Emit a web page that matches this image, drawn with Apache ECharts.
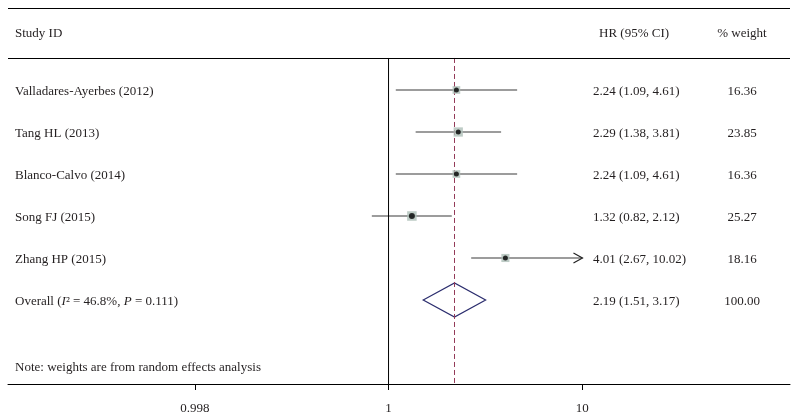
<!DOCTYPE html>
<html>
<head>
<meta charset="utf-8">
<script src="https://cdn.jsdelivr.net/npm/echarts@6/dist/echarts.min.js"></script>
<style>html,body{margin:0;padding:0;background:#fff}#c{width:798px;height:418px}</style>
</head>
<body>
<div id="c"></div>
<script>
// ---- data ----
const studies = ["Valladares-Ayerbes (2012)", "Tang HL (2013)", "Blanco-Calvo (2014)", "Song FJ (2015)", "Zhang HP (2015)"];
const hr = [2.24, 2.29, 2.24, 1.32, 4.01];
const lower = [1.09, 1.38, 1.09, 0.82, 2.67];
const upper = [4.61, 3.81, 4.61, 2.12, 10.02];
const weights = [16.36, 23.85, 16.36, 25.27, 18.16];
const clippedRight = [0, 0, 0, 0, 1];
const overallLabel = "Overall";
const overallI2 = "46.8%";
const overallP = "0.111";
const overallHR = 2.19, overallLo = 1.51, overallHi = 3.17, overallWeight = 100.00;
const headers = ["Study ID", "HR (95% CI)", "% weight"];
const note = "Note: weights are from random effects analysis";
const tickValues = [0.1, 1, 10];          // positions on the log scale
const tickLabels = ["0.998", "1", "10"];  // labels as printed

// ---- layout (row coordinates) ----
const Y_MIN = -0.952, Y_MAX = 8.0;
const ROW_HEADER = -0.381, ROW_HEADLINE = 0.238, ROW_OVERALL = 6, ROW_NOTE = 7.57;
const FONT = "'Liberation Serif', 'DejaVu Serif', serif";
const TXT = '#231f20';
const TEXT_DY = 1.5;
const lg = Math.log10;

const rows = studies.map((s, i) => i + 1);
const fmt = v => v.toFixed(2);

const ciData = studies.map((s, i) => [lg(lower[i]), lg(upper[i]), rows[i], clippedRight[i]]);
const boxData = studies.map((s, i) => ({ value: [lg(hr[i]), rows[i]], symbolSize: 1.9 * Math.sqrt(weights[i]) }));
const dotData = studies.map((s, i) => ({ value: [lg(hr[i]), rows[i]], symbolSize: weights[i] > 25 ? 6 : 5 }));

const textRows = studies.map((s, i) => [rows[i], s, fmt(hr[i]) + ' (' + fmt(lower[i]) + ', ' + fmt(upper[i]) + ')', fmt(weights[i]), 0]);
textRows.push([ROW_OVERALL, overallLabel, fmt(overallHR) + ' (' + fmt(overallLo) + ', ' + fmt(overallHi) + ')', fmt(overallWeight), 1]);
textRows.push([ROW_HEADER, headers[0], headers[1], headers[2], 2]);
textRows.push([ROW_NOTE, note, '', '', 3]);

const chart = echarts.init(document.getElementById('c'), null, { renderer: 'canvas' });

const baseText = { fontFamily: FONT, fontSize: 13, fill: TXT, verticalAlign: 'middle' };

chart.setOption({
  animation: false,
  backgroundColor: '#fff',
  grid: { left: 8, right: 8, top: 8, bottom: 34 },
  xAxis: {
    type: 'value',
    min: -1.964, max: 2.072,
    splitLine: { show: false },
    axisLine: { show: true, onZero: false, lineStyle: { color: '#000', width: 1 } },
    axisTick: { show: true, customValues: tickValues.map(lg), length: 6, lineStyle: { color: '#000' } },
    axisLabel: {
      customValues: tickValues.map(lg),
      margin: 18,
      fontFamily: FONT, fontSize: 13, color: TXT,
      formatter: v => {
        const idx = tickValues.map(lg).findIndex(t => Math.abs(t - v) < 1e-6);
        return idx >= 0 ? tickLabels[idx] : '';
      }
    }
  },
  yAxis: { type: 'value', inverse: true, min: Y_MIN, max: Y_MAX, show: false },
  series: [
    {
      type: 'line', data: [[0, ROW_HEADLINE], [0, Y_MAX]], symbol: 'none',
      lineStyle: { color: '#000', width: 1 }, silent: true,
      markLine: {
        silent: true, symbol: 'none', label: { show: false },
        lineStyle: { color: '#000', width: 1, type: 'solid' },
        data: [{ yAxis: Y_MIN + 0.005 }, { yAxis: ROW_HEADLINE }]
      }
    },
    {
      type: 'line', data: [[lg(overallHR), ROW_HEADLINE], [lg(overallHR), Y_MAX]], symbol: 'none',
      lineStyle: { color: '#933a58', width: 1, type: [5, 3] }, silent: true
    },
    {
      type: 'custom', data: ciData, clip: false, silent: true,
      renderItem: (params, api) => {
        const y = api.value(2);
        const a = api.coord([api.value(0), y]);
        const b = api.coord([api.value(1), y]);
        const children = [{ type: 'line', shape: { x1: a[0], y1: a[1], x2: b[0], y2: b[1] }, style: { stroke: '#3a3a3a', lineWidth: 1.2 } }];
        if (api.value(3)) {
          children.push({ type: 'polyline', shape: { points: [[b[0] - 9, b[1] - 5], [b[0], b[1]], [b[0] - 9, b[1] + 5]] }, style: { stroke: '#222', lineWidth: 1.2, fill: null } });
        }
        return { type: 'group', children };
      }
    },
    {
      type: 'scatter', data: boxData, symbol: 'rect', silent: true,
      itemStyle: { color: '#aebfb8' }, z: 3
    },
    {
      type: 'scatter', data: dotData, symbol: 'circle', silent: true,
      itemStyle: { color: '#000' }, z: 4
    },
    {
      type: 'custom', data: [[lg(overallLo), lg(overallHR), lg(overallHi), ROW_OVERALL]], clip: false, silent: true,
      renderItem: (params, api) => {
        const r = api.value(3);
        const p1 = api.coord([api.value(0), r]);
        const p2 = api.coord([api.value(1), r - 0.405]);
        const p3 = api.coord([api.value(2), r]);
        const p4 = api.coord([api.value(1), r + 0.405]);
        return { type: 'polygon', shape: { points: [p1, p2, p3, p4] }, style: { stroke: '#2b2d6e', lineWidth: 1.2, fill: null } };
      }
    },
    {
      type: 'custom', data: textRows, clip: false, silent: true,
      renderItem: (params, api) => {
        const row = textRows[params.dataIndex];
        const y = api.coord([0, row[0]])[1] + TEXT_DY;
        const kind = row[4];
        const children = [];
        if (kind === 1) {
          children.push({
            type: 'text', x: 15, y: y,
            style: Object.assign({}, baseText, {
              text: '{n|' + row[1] + ' (}{i|I}{n|² = ' + overallI2 + ', }{i|P}{n| = ' + overallP + ')}',
              rich: {
                n: { fontFamily: FONT, fontSize: 13, fill: TXT },
                i: { fontFamily: FONT, fontSize: 13, fill: TXT, fontStyle: 'italic' }
              }
            })
          });
        } else {
          children.push({ type: 'text', x: 15, y: y, style: Object.assign({}, baseText, { text: row[1] }) });
        }
        if (row[2]) children.push({ type: 'text', x: kind === 2 ? 599 : 593, y: y, style: Object.assign({}, baseText, { text: row[2] }) });
        if (row[3]) children.push({ type: 'text', x: 742, y: y, style: Object.assign({}, baseText, { text: row[3], align: 'center' }) });
        return { type: 'group', children };
      }
    }
  ]
});
</script>
</body>
</html>
